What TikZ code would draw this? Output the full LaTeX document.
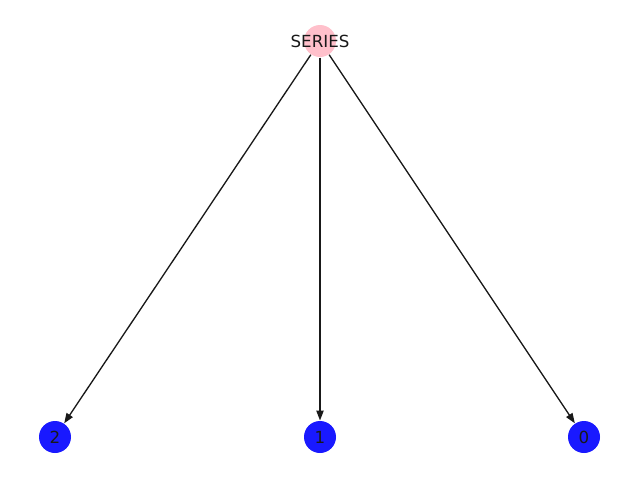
\documentclass[tikz,border=0pt]{standalone}
\usepackage{fontspec}
\setmainfont{DejaVu Sans}
\usetikzlibrary{arrows.meta}

\definecolor{nodeblue}{RGB}{25,25,255}
\definecolor{nodepink}{RGB}{255,192,203}

\tikzset{every picture/.style={line width=0.75pt}}
\tikzset{
  vertex/.style={circle, draw=none, minimum size=24pt, inner sep=0pt},
  vlabel/.style={font=\fontsize{12.5}{15}\selectfont, text=black!90},
  edge/.style={draw=black!90, line width=1pt, -{Stealth[length=7.5pt,width=5.5pt,inset=0pt]}}
}

\begin{document}
\begin{tikzpicture}[x=0.75pt,y=0.75pt,yscale=-1,xscale=1]
	\useasboundingbox (0,0) rectangle (640,480);

	% Nodes
	\node [vertex, fill=nodepink, label={[vlabel]center:SERIES}] (series) at (320,41) {};
	\node [vertex, fill=nodeblue, label={[vlabel]center:2}] (two) at (55,437) {};
	\node [vertex, fill=nodeblue, label={[vlabel]center:1}] (one) at (320,437) {};
	\node [vertex, fill=nodeblue, label={[vlabel]center:0}] (zero) at (584,437) {};

	% Edges
	\draw [edge] (series) -- (two);
	\draw [edge] (series) -- (one);
	\draw [edge] (series) -- (zero);

\end{tikzpicture}
\end{document}
